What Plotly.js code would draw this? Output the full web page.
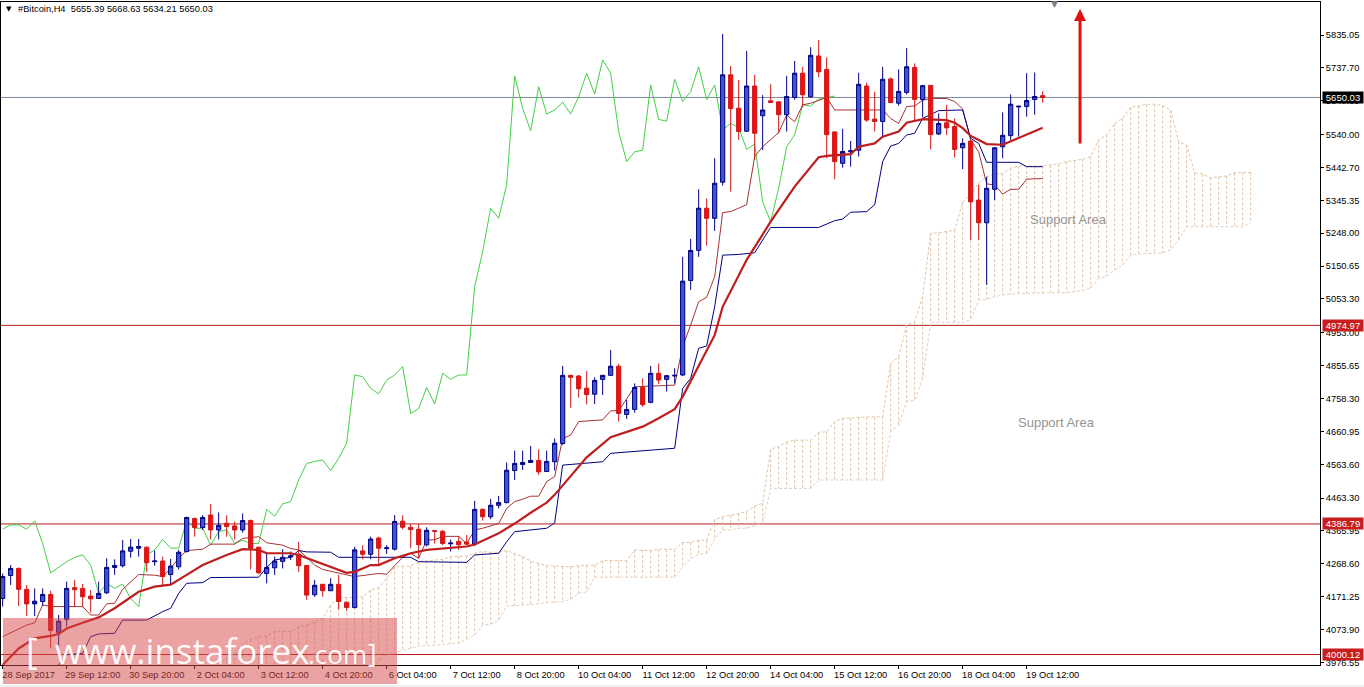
<!DOCTYPE html>
<html>
<head>
<meta charset="utf-8">
<script src="https://cdn.plot.ly/plotly-3.0.1.min.js"></script>
<style>html,body{margin:0;padding:0;background:#fff;overflow:hidden}#chart{width:1364px;height:687px}</style>
</head>
<body>
<div id="chart"></div>
<script>
const opens = [
4166,4234,4255,4193,4150,4157,4178,4066,4104,4198,
4196,4173,4166,4183,4258,4263,4306,4315,4318,4275,
4277,4237,4260,4305,4403,4376,4413,4369,4389,4381,
4369,4397,4318,4240,4257,4276,4289,4297,4264,4177,
4208,4189,4208,4155,4139,4307,4297,4345,4314,4312,
4395,4377,4371,4325,4367,4365,4328,4335,4333,4327,
4430,4408,4442,4450,4545,4563,4569,4575,4542,4571,
4625,4827,4825,4789,4771,4815,4827,4854,4711,4726,
4791,4747,4833,4815,4825,4828,5108,5197,5322,5292,
5399,5717,5618,5550,5684,5596,5640,5637,5599,5650,
5722,5652,5773,5733,5548,5455,5489,5494,5684,5586,
5579,5705,5633,5665,5739,5644,5686,5542,5575,5564,
5501,5521,5346,5279,5378,5504,5537,5622,5623,5644,5655.39];
const closes = [
4231,4255,4193,4150,4158,4178,4071,4099,4196,4192,
4171,4165,4181,4258,4264,4307,4318,4320,4272,4277,
4231,4262,4303,4406,4376,4406,4369,4383,4379,4369,
4397,4315,4242,4258,4277,4288,4292,4263,4176,4205,
4189,4208,4157,4139,4310,4297,4342,4315,4316,4394,
4377,4370,4325,4368,4365,4329,4330,4325,4327,4430,
4408,4442,4450,4546,4566,4569,4575,4541,4572,4626,
4827,4821,4787,4770,4812,4827,4854,4714,4726,4791,
4740,4833,4813,4826,4827,5106,5197,5322,5292,5396,
5717,5617,5549,5684,5544,5613,5635,5599,5653,5722,
5658,5775,5726,5540,5460,5490,5492,5689,5583,5579,
5704,5635,5668,5741,5644,5685,5540,5573,5560,5496,
5514,5341,5279,5381,5501,5538,5630,5624,5641,5653,5650.03];
const highs = [
4240,4265,4258,4206,4196,4196,4189,4117,4216,4221,
4209,4191,4216,4285,4282,4339,4342,4342,4319,4308,
4290,4283,4310,4408,4406,4413,4446,4421,4413,4394,
4418,4400,4319,4302,4290,4312,4305,4334,4265,4221,
4209,4226,4236,4157,4319,4324,4349,4349,4324,4413,
4413,4387,4387,4377,4369,4369,4341,4351,4354,4455,
4433,4461,4470,4569,4604,4604,4618,4608,4604,4640,
4855,4828,4828,4840,4821,4828,4902,4861,4754,4803,
4818,4855,4862,4828,4848,5178,5231,5378,5351,5470,
5838,5743,5702,5788,5717,5657,5689,5638,5714,5758,
5741,5799,5820,5769,5549,5557,5521,5723,5694,5667,
5741,5709,5733,5796,5751,5687,5687,5603,5628,5588,
5529,5522,5391,5415,5502,5606,5659,5625,5722,5724,5668.63];
const lows = [
4142,4206,4144,4114,4114,4144,4018,4008,4083,4142,
4140,4124,4165,4179,4236,4258,4287,4290,4245,4263,
4203,4209,4252,4302,4349,4369,4341,4341,4349,4341,
4361,4252,4239,4211,4236,4255,4280,4245,4162,4171,
4171,4188,4134,4130,4137,4282,4282,4265,4298,4308,
4371,4315,4285,4320,4329,4324,4305,4310,4324,4321,
4397,4401,4433,4448,4517,4547,4568,4532,4541,4545,
4621,4731,4761,4741,4742,4769,4826,4690,4698,4716,
4734,4744,4801,4779,4803,4825,5080,5178,5211,5255,
5389,5371,5524,5549,5465,5494,5634,5544,5549,5643,
5621,5650,5710,5470,5408,5442,5445,5475,5578,5549,
5534,5633,5626,5659,5583,5591,5496,5539,5539,5472,
5438,5228,5228,5095,5346,5470,5524,5534,5593,5599,5634.21];

const chikou = [
4371,4384,4384,4371,4396,4329,4242,4258,4275,4288,
4295,4265,4181,4210,4196,4209,4166,4142,4295,4310,
4341,4315,4315,4396,4374,4374,4324,4364,4369,4329,
4339,4329,4329,4430,4410,4446,4453,4517,4566,4572,
4576,4545,4581,4626,4828,4823,4788,4772,4813,4828,
4853,4714,4729,4791,4742,4833,4815,4828,4828,5090,
5193,5322,5292,5391,5714,5618,5551,5682,5601,5613,
5636,5601,5652,5722,5660,5761,5722,5549,5460,5489,
5494,5687,5585,5580,5704,5638,5667,5741,5644,5687,
5554,5573,5561,5496,5512,5341,5282,5381,5504,5539,
5628,5625,5645,5650,5654];

const maBars = [0,2,4,6,7,8,10,12,14,17,19,21,23,25,28,30,32,33,36,37,39,42,43,44,46,47,49,51,53,58,59,62,64,66,68,69,71,73,76,78,80,82,84,85,87,89,90,93,96,99,102,103,106,107,109,110,112,113,115,118,119,120,121,123,125,130];
const maValues = [3969,4018,4048,4055,4061,4077,4094,4110,4137,4186,4201,4207,4236,4265,4295,4312,4310,4300,4300,4295,4277,4250,4242,4245,4265,4265,4285,4300,4310,4320,4326,4359,4388,4420,4450,4473,4527,4584,4644,4660,4675,4700,4727,4764,4855,4946,5030,5169,5282,5386,5473,5477,5482,5504,5514,5534,5549,5575,5586,5583,5575,5559,5536,5512,5510,5560];

const tenkanBars = [0,2,3,4,5,6,10,11,12,13,14,15,16,17,19,20,21,22,23,24,25,26,29,30,32,33,35,36,37,39,40,43,44,46,47,48,49,50,51,52,53,54,55,57,58,59,60,62,63,64,65,66,67,68,69,70,71,72,75,76,77,79,84,85,86,87,88,89,90,91,92,93,94,95,97,98,99,100,101,103,104,110,111,112,113,114,115,116,118,119,120,121,122,123,124,125,126,127,128,129,130];
const tenkanValues = [4053,4077,4087,4094,4147,4142,4142,4117,4117,4150,4152,4193,4216,4237,4235,4231,4255,4285,4308,4310,4312,4327,4327,4344,4349,4331,4324,4314,4310,4265,4252,4236,4231,4237,4240,4238,4262,4288,4300,4285,4339,4340,4350,4350,4329,4369,4374,4388,4433,4453,4460,4469,4469,4512,4527,4640,4650,4690,4695,4722,4722,4793,4798,4912,4976,5045,5058,5119,5309,5312,5322,5333,5475,5504,5546,5598,5578,5628,5633,5650,5613,5613,5588,5573,5623,5625,5642,5647,5647,5638,5616,5524,5489,5394,5391,5364,5378,5378,5408,5410,5410];

const kijunBars = [7,8,10,11,12,14,15,18,20,21,22,23,25,26,32,33,34,36,37,38,41,42,51,52,58,59,62,63,64,68,69,70,75,76,84,85,86,87,88,89,90,92,94,96,102,104,105,106,108,109,110,111,112,113,114,115,117,120,121,122,123,127,128,130];
const kijunValues = [3969,3999,4004,4053,4061,4063,4102,4102,4127,4137,4181,4211,4213,4228,4229,4258,4280,4288,4308,4304,4303,4288,4288,4275,4273,4295,4300,4334,4364,4374,4390,4561,4571,4596,4611,4788,4818,4907,4914,5030,5183,5185,5190,5265,5265,5285,5290,5310,5312,5332,5460,5506,5514,5539,5544,5588,5611,5613,5529,5514,5458,5458,5445,5445];

const cloudFirstBar = 27;
const cloudTop = [
3969,3990,4004,4028,4045,4053,4055,4068,4068,4068,4082,4087,4097,4107,4147,4169,4169,4171,4171,4191,4199,4226,4260,
4262,4262,4275,4277,4278,4282,4290,4292,4292,4300,4305,4303,4303,4308,4300,4290,4277,4270,4263,4262,4260,4260,4263,4263,4265,
4278,4278,4278,4278,4310,4310,4308,4312,4312,4312,4332,4332,4339,4339,4400,4408,4413,4418,4423,4440,4448,
4608,4616,4630,4635,4635,4635,4658,4660,4690,4700,4700,4703,4703,4703,4705,4862,4882,4976,4986,5060,
5248,5249,5252,5257,5341,5361,5397,5415,5423,5425,5441,5447,5447,5447,5447,5450,5453,5460,5463,5467,5475,
5524,5539,5573,5588,5621,5625,5630,5630,5626,5613,5519,5509,5427,5423,5412,5415,5417,5427,5428,5428];
const cloudBottom = [
3950,3950,3950,3950,3950,3950,3950,3950,3950,3950,3950,3950,3950,3950,3950,3950,3950,3950,3950,3966,3981,3999,4005,
4011,4018,4025,4027,4027,4030,4033,4033,4045,4058,4087,4090,4102,4144,4145,4146,4148,4150,4154,4154,4156,4164,4181,4186,4229,
4229,4229,4229,4229,4229,4229,4229,4229,4229,4229,4260,4285,4297,4300,4341,4369,4369,4374,4374,4381,4389,
4492,4492,4492,4492,4492,4492,4517,4517,4517,4517,4517,4517,4517,4517,4517,4660,4680,4749,4754,4818,
4984,4984,4984,4984,4984,4991,5050,5052,5060,5065,5068,5070,5070,5070,5070,5072,5072,5072,5075,5078,5085,
5114,5121,5139,5154,5183,5186,5188,5188,5190,5198,5228,5267,5267,5267,5267,5267,5267,5267,5267,5279];

const priceTicks = [5835.05,5737.70,5640.35,5540.00,5442.70,5345.35,5248.00,5150.65,5053.30,4953.00,4855.65,4758.30,4660.95,4563.60,4463.30,4365.95,4268.60,4171.25,4073.90,3976.55];
const dateTickBars = [0,8,16,24,32,40,48,56,64,72,80,88,96,104,112,120,128];
const dateTickLabels = ["28 Sep 2017","29 Sep 12:00","30 Sep 20:00","2 Oct 04:00","3 Oct 12:00","4 Oct 20:00","6 Oct 04:00","7 Oct 12:00","8 Oct 20:00","10 Oct 04:00","11 Oct 12:00","12 Oct 20:00","14 Oct 04:00","15 Oct 12:00","16 Oct 20:00","18 Oct 04:00","19 Oct 12:00"];
const levels = [4974.97,4386.79,4000.12];
const lastPrice = 5650.03;
const headerText = "#Bitcoin,H4  5655.39 5668.63 5634.21 5650.03";

const L=1,R=1320,T=2,B=665,W=R-L,H=B-T;
const xRange=[(L-2.67)/8,(R-2.67)/8];
const yRange=[5835.05-(B-35)*2.962,5835.05+(35-T)*2.962];
const px=x=>(x-L)/W, py=y=>1-(y-T)/H;
const fontFam='"Liberation Sans",Arial,sans-serif';
const bars=opens.map((_,i)=>i);

const cx=[],cy=[];
cloudTop.forEach((v,k)=>{cx.push(k+cloudFirstBar,k+cloudFirstBar,null);cy.push(v,cloudBottom[k],null);});
const cloudBars=cloudTop.map((_,k)=>k+cloudFirstBar);
const tan='#e0c4a8';

const traces=[
 {type:'scatter',mode:'lines',x:cx,y:cy,line:{color:tan,width:1,dash:'3px,2px'},hoverinfo:'skip'},
 {type:'scatter',mode:'lines',x:cloudBars,y:cloudTop,line:{color:tan,width:1,dash:'3px,2px'},hoverinfo:'skip'},
 {type:'scatter',mode:'lines',x:cloudBars,y:cloudBottom,line:{color:'#dfd0c4',width:1,dash:'3px,2px'},hoverinfo:'skip'},
 {type:'scatter',mode:'lines',x:bars.slice(0,chikou.length),y:chikou,line:{color:'#44d044',width:1},hoverinfo:'skip'},
 {type:'scatter',mode:'lines',x:tenkanBars,y:tenkanValues,line:{color:'#a83232',width:1},hoverinfo:'skip'},
 {type:'scatter',mode:'lines',x:kijunBars,y:kijunValues,line:{color:'#000080',width:1},hoverinfo:'skip'},
 {type:'candlestick',x:bars,open:opens,high:highs,low:lows,close:closes,xaxis:'x2',yaxis:'y2',
  whiskerwidth:0,
  increasing:{line:{color:'#000080',width:1},fillcolor:'#3b55d6'},
  decreasing:{line:{color:'#d01818',width:1},fillcolor:'#ee1010'},hoverinfo:'skip'},
 {type:'scatter',mode:'lines',x:maBars,y:maValues,xaxis:'x2',yaxis:'y2',line:{color:'#bf1e1e',width:2.2},hoverinfo:'skip'}
];

const hline=(v,c)=>({type:'line',layer:'below',xref:'paper',x0:0,x1:1,yref:'y',y0:v,y1:v,line:{color:c,width:1}});
const shapes=levels.map(v=>hline(v,'#b81c1c'));
shapes.push(hline(lastPrice,'#7d8a96'));
shapes.push({type:'rect',layer:'above',xref:'paper',yref:'paper',x0:px(3),x1:px(397),y0:py(684),y1:py(618),fillcolor:'rgba(216,70,70,0.5)',line:{width:0}});
shapes.push({type:'rect',layer:'below',xref:'paper',yref:'paper',x0:px(0),x1:px(1364),y0:py(687),y1:py(685),fillcolor:'#f0f0f0',line:{width:0}});

const label=(v,bg)=>({xref:'paper',yref:'y',x:px(1322),y:v,xanchor:'left',yanchor:'middle',text:v.toFixed(2),showarrow:false,
 width:40,height:11,align:'center',borderpad:0,bgcolor:bg,font:{family:fontFam,size:9.5,color:'#fff'}});
const wm=(t,x,anchor,size,y,fam)=>({xref:'paper',yref:'paper',x:px(x),y:py(y),xanchor:anchor,yanchor:'middle',text:t,showarrow:false,
 font:{family:fam,size:size,color:'rgba(255,255,255,0.95)'}});
const annotations=[
 {xref:'paper',yref:'paper',x:px(4),y:py(9),xanchor:'left',yanchor:'middle',text:'▼',showarrow:false,font:{family:'"DejaVu Sans"',size:7,color:'#000'}},
 {xref:'paper',yref:'paper',x:px(16),y:py(9.5),xanchor:'left',yanchor:'middle',text:headerText.replace(/ /g,'\u00a0'),showarrow:false,font:{family:fontFam,size:9.3,color:'#000'}},
 {xref:'paper',yref:'paper',x:px(1054),y:py(4),xanchor:'center',yanchor:'middle',text:'▼',showarrow:false,font:{family:'"DejaVu Sans"',size:9,color:'#808080'}},
 {xref:'x',yref:'y',x:134.67,y:5912,axref:'x',ayref:'y',ax:134.67,ay:5509,showarrow:true,arrowcolor:'#de1212',arrowwidth:3,arrowhead:2,arrowsize:0.8,text:''},
 {xref:'paper',yref:'paper',x:px(1068),y:py(220),xanchor:'center',yanchor:'middle',text:'Support Area',showarrow:false,font:{family:fontFam,size:13,color:'#959595'}},
 {xref:'paper',yref:'paper',x:px(1056),y:py(422),xanchor:'center',yanchor:'middle',text:'Support Area',showarrow:false,font:{family:fontFam,size:13,color:'#959595'}},
 label(levels[0],'#c81e1e'),label(levels[1],'#c81e1e'),label(levels[2],'#c81e1e'),label(lastPrice,'#000'),
 wm('[',24,'left',36,650,'"Open Sans"'),
 wm('www.instaforex',53,'left',35,650,'"Open Sans"'),
 wm('.com',306,'left',26,654,'"Open Sans"'),
 wm(']',366,'left',26,652,'"Open Sans"')
];

const layout={
 width:1364,height:687,margin:{l:L,r:1364-R,t:T,b:687-B,pad:0},autosize:false,
 paper_bgcolor:'#fff',plot_bgcolor:'#fff',showlegend:false,hovermode:false,boxgap:0.25,boxmode:'overlay',
 xaxis:{range:xRange,type:'linear',showgrid:false,zeroline:false,showline:true,mirror:true,linecolor:'#000',linewidth:1,
  ticks:'outside',ticklen:3,tickcolor:'#000',tickmode:'array',tickvals:dateTickBars,ticktext:dateTickLabels,tickangle:0,
  ticklabelshift:26,ticklabelstandoff:-2,tickfont:{family:fontFam,size:9.3,color:'#000'},rangeslider:{visible:false}},
 yaxis:{range:yRange,side:'right',showgrid:false,zeroline:false,showline:true,mirror:true,linecolor:'#000',linewidth:1,
  ticks:'outside',ticklen:3,tickcolor:'#000',tickmode:'array',tickvals:priceTicks,ticktext:priceTicks.map(v=>v.toFixed(2)),
  tickfont:{family:fontFam,size:9.3,color:'#000'}},
 xaxis2:{range:xRange,type:'linear',overlaying:'x',anchor:'y2',visible:false,rangeslider:{visible:false}},
 yaxis2:{range:yRange,overlaying:'y',anchor:'x2',side:'right',visible:false},
 shapes,annotations
};
Plotly.newPlot('chart',traces,layout,{displayModeBar:false,staticPlot:true});
</script>
</body>
</html>
